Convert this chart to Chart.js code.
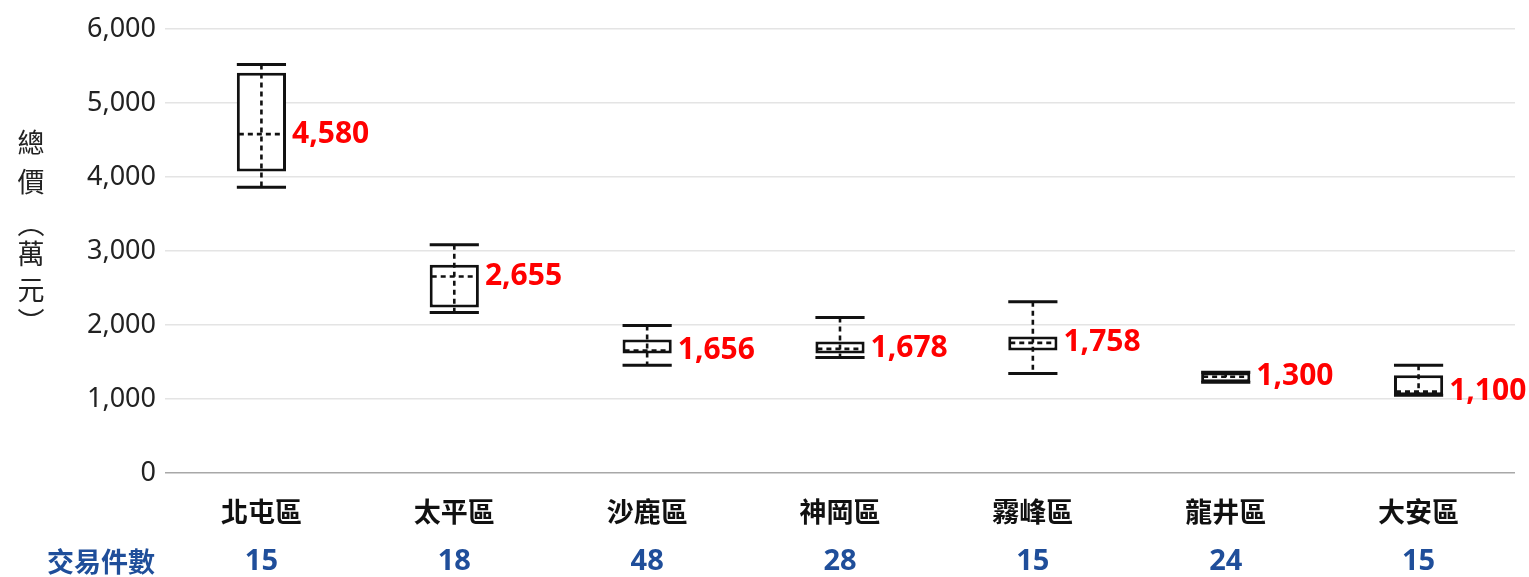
<!DOCTYPE html>
<html lang="zh-Hant">
<head>
    <meta charset="UTF-8">
    <title>總價箱型圖</title>
    <script src="https://cdn.jsdelivr.net/npm/chart.js"></script>
    <style>
        html, body { margin: 0; padding: 0; background: #fff; }
        #wrap { width: 1529px; height: 577px; }
    </style>
</head>
<body>
    <div id="wrap"><canvas id="boxChart"></canvas></div>
    <script>
        // data (萬元)
        const districts = ['北屯區', '太平區', '沙鹿區', '神岡區', '霧峰區', '龍井區', '大安區'];
        const counts = [15, 18, 48, 28, 15, 24, 15];
        const whiskerMin = [3860, 2170, 1455, 1560, 1345, 1225, 1050];
        const q1 = [4075, 2235, 1615, 1615, 1655, 1228, 1050];
        const medians = [4580, 2655, 1656, 1678, 1758, 1300, 1100];
        const q3 = [5410, 2815, 1805, 1778, 1845, 1358, 1320];
        const whiskerMax = [5520, 3085, 1992, 2100, 2315, 1360, 1455];
        const yTicks = [0, 1000, 2000, 3000, 4000, 5000, 6000];

        const FONT = '"Noto Sans", "Noto Sans CJK TC", sans-serif';
        const CJK = '"Noto Sans CJK TC", "Noto Sans", sans-serif';

        // whiskers, medians, value labels, category rows, axis title
        const boxExtras = {
            id: 'boxExtras',
            afterDatasetsDraw(chart) {
                const ctx = chart.ctx;
                const x = chart.scales.x, y = chart.scales.y;
                const meta = chart.getDatasetMeta(0);
                ctx.save();
                districts.forEach((d, i) => {
                    const bar = meta.data[i];
                    const cx = x.getPixelForValue(i);
                    const half = bar.width / 2;
                    const yMin = y.getPixelForValue(whiskerMin[i]);
                    const yMax = y.getPixelForValue(whiskerMax[i]);
                    const yMed = y.getPixelForValue(medians[i]);

                    ctx.strokeStyle = '#111';
                    ctx.lineWidth = 3;
                    ctx.setLineDash([]);
                    ctx.beginPath();
                    ctx.moveTo(cx - half, yMax); ctx.lineTo(cx + half, yMax);
                    ctx.moveTo(cx - half, yMin); ctx.lineTo(cx + half, yMin);
                    ctx.stroke();

                    ctx.lineWidth = 2.6;
                    ctx.setLineDash([5, 4]);
                    ctx.beginPath();
                    ctx.moveTo(cx, yMax); ctx.lineTo(cx, yMin);
                    ctx.moveTo(cx - half + 2, yMed); ctx.lineTo(cx + half - 2, yMed);
                    ctx.stroke();
                    ctx.setLineDash([]);

                    ctx.fillStyle = '#ff0000';
                    ctx.font = 'bold 30px ' + FONT;
                    ctx.textAlign = 'left';
                    ctx.textBaseline = 'middle';
                    ctx.fillText(medians[i].toLocaleString('en-US'), cx + half + 6, yMed);

                    ctx.textAlign = 'center';
                    ctx.fillStyle = '#111';
                    ctx.font = 'bold 27px ' + CJK;
                    ctx.fillText(d, cx, 512);
                    ctx.fillStyle = '#1f4e9a';
                    ctx.font = 'bold 29px ' + FONT;
                    ctx.fillText(String(counts[i]), cx, 562);
                });

                ctx.fillStyle = '#1f4e9a';
                ctx.font = 'bold 27px ' + CJK;
                ctx.textAlign = 'center';
                ctx.fillText('交易件數', 101, 562);

                ctx.fillStyle = '#222';
                ctx.font = '27px ' + CJK;
                const title = ['總', '價', '︵', '萬', '元', '︶'];
                const ty = [143, 182, 224, 254, 290, 322];
                title.forEach((c, k) => ctx.fillText(c, 31, ty[k]));
                ctx.restore();
            }
        };

        const ctxBox = document.getElementById('boxChart').getContext('2d');
        const boxChart = new Chart(ctxBox, {
            type: 'bar',
            data: {
                labels: districts,
                datasets: [{
                    label: '總價',
                    data: q1.map((v, i) => [v, q3[i]]),
                    backgroundColor: '#ffffff',
                    borderColor: '#111',
                    borderWidth: 3,
                    borderSkipped: false,
                    barPercentage: 1,
                    categoryPercentage: 0.255,
                }]
            },
            options: {
                responsive: true,
                maintainAspectRatio: false,
                animation: false,
                layout: { padding: { top: 29, right: 14, left: 0, bottom: 0 } },
                plugins: {
                    legend: { display: false },
                    tooltip: { enabled: false },
                },
                scales: {
                    x: {
                        grid: { display: false },
                        border: { display: false },
                        ticks: { display: false },
                        afterFit(scale) { scale.height = 104; },
                    },
                    y: {
                        min: 0,
                        max: 6000,
                        afterBuildTicks(scale) { scale.ticks = yTicks.map(v => ({ value: v })); },
                        afterFit(scale) { scale.width = 165; },
                        border: { display: false },
                        grid: {
                            drawTicks: false,
                            lineWidth: 1.5,
                            color: c => c.tick && c.tick.value === 0 ? '#a8a8a8' : '#e4e4e4',
                        },
                        ticks: {
                            padding: 9,
                            color: '#222',
                            font: { size: 27, family: FONT },
                            callback: v => v.toLocaleString('en-US'),
                        }
                    }
                }
            },
            plugins: [boxExtras]
        });
    </script>
</body>
</html>
